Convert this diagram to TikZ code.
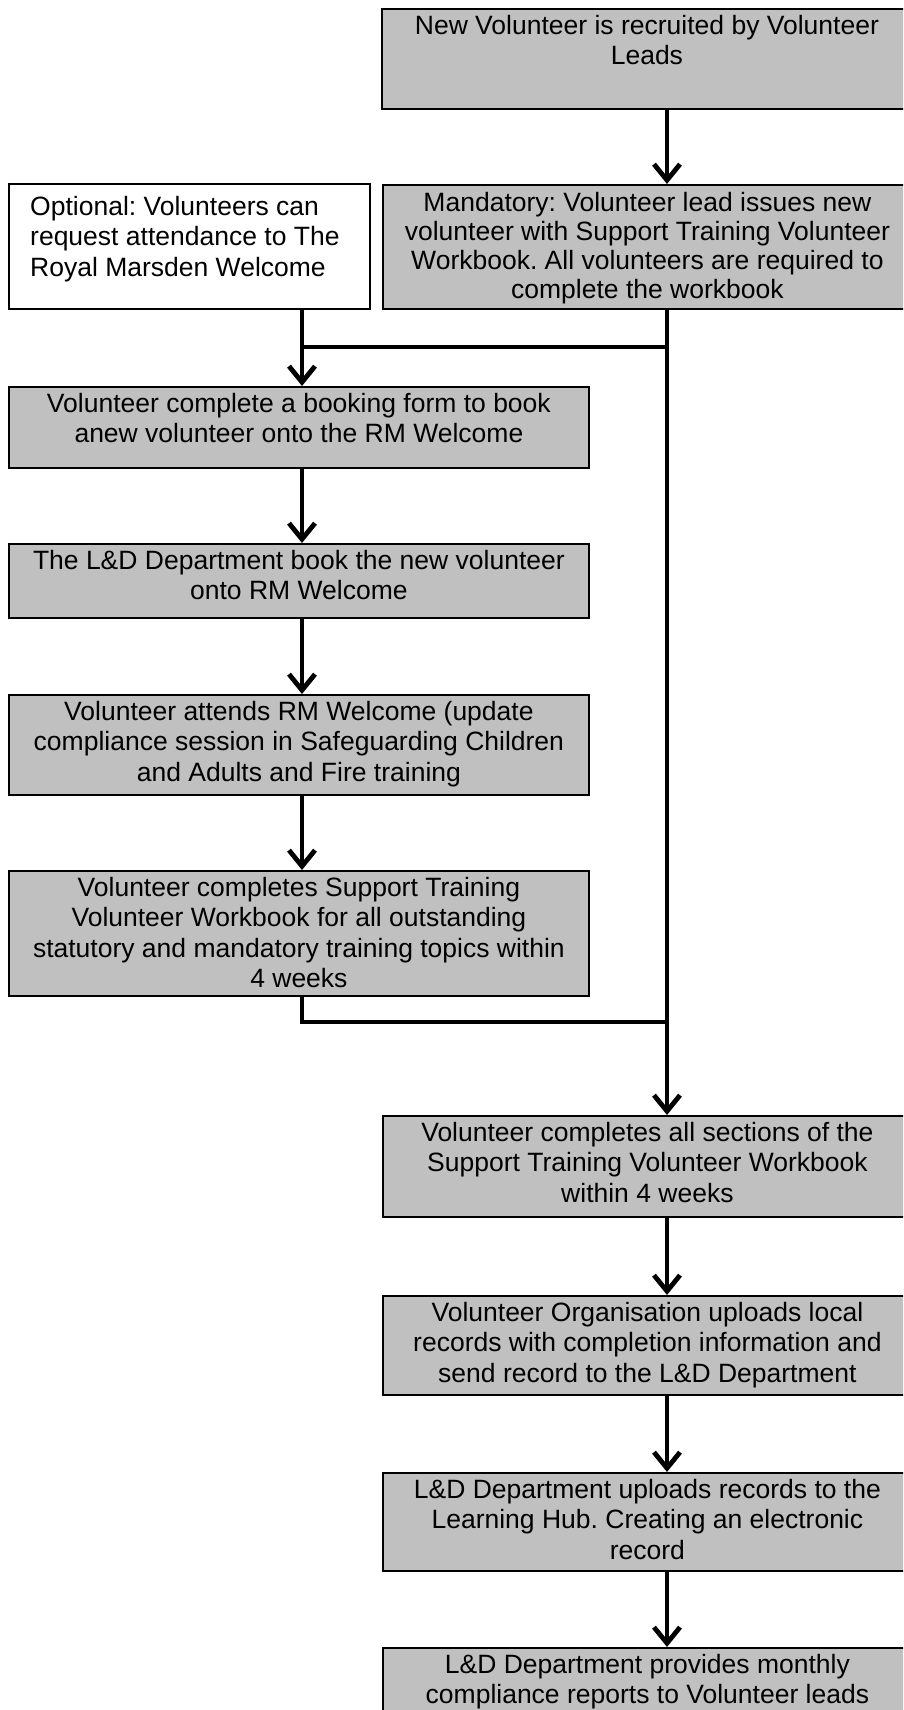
\documentclass[tikz,border=0pt]{standalone}
\usepackage{fontspec}
\setmainfont{Liberation Sans}
\frenchspacing
\usetikzlibrary{arrows.meta,calc}
\definecolor{boxgray}{HTML}{C0C0C0}
\begin{document}
\begin{tikzpicture}[x=1pt,y=-1pt,
  box/.style={draw=black,line width=1.8pt,fill=boxgray,rectangle,inner sep=0pt,anchor=north west},
  wbox/.style={box,fill=white},
  txt/.style={font=\fontsize{26.5}{30.5}\selectfont,align=center,inner sep=0pt,anchor=north},
  ltxt/.style={txt,align=left,anchor=north west},
  conn/.style={line width=4.8pt},
  arr/.style={conn,-{Straight Barb[length=16pt,width=26pt,sharp]}}]
\useasboundingbox (0,0) rectangle (903,1710);
\clip (0,0) rectangle (903,1710);
\fill[white] (0,0) rectangle (903,1710);
\coordinate (R) at (667,0);
\coordinate (L) at (302,0);
\coordinate (J1) at (0,347);
\coordinate (J2) at (0,1022);
% boxes
\node[box,minimum width=530pt,minimum height=100pt] (b1) at (381,8) {};
\node[wbox,minimum width=361pt,minimum height=125pt] (b2) at (8,183) {};
\node[box,minimum width=529pt,minimum height=124pt] (b3) at (382,184) {};
\node[box,minimum width=580pt,minimum height=81pt] (b4) at (8,386) {};
\node[box,minimum width=580pt,minimum height=74pt] (b5) at (8,543) {};
\node[box,minimum width=580pt,minimum height=100pt] (b6) at (8,694) {};
\node[box,minimum width=580pt,minimum height=125pt] (b7) at (8,870) {};
\node[box,minimum width=529pt,minimum height=101pt] (b8) at (382,1115) {};
\node[box,minimum width=529pt,minimum height=99pt] (b9) at (382,1295) {};
\node[box,minimum width=529pt,minimum height=98pt] (b10) at (382,1472) {};
\node[box,minimum width=529pt,minimum height=90pt] (b11) at (382,1647) {};
% texts
\node[txt] (t1) at ($(b1.north)+(0,7)$) {New Volunteer is recruited by Volunteer\\Leads};
\node[ltxt] (t2) at (30,196) {Optional: Volunteers can\\request attendance to The\\Royal Marsden Welcome};
\node[txt,font=\fontsize{26.5}{29}\selectfont] (t3) at ($(b3.north)+(0,8)$) {Mandatory: Volunteer lead issues new\\volunteer with Support Training Volunteer\\Workbook. All volunteers are required to\\complete the workbook};
\node[txt] (t4) at ($(b4.north)+(0,7)$) {Volunteer complete a booking form to book\\anew volunteer onto the RM Welcome};
\node[txt] (t5) at ($(b5.north)+(0,7)$) {The L\&D Department book the new volunteer\\onto RM Welcome};
\node[txt] (t6) at ($(b6.north)+(0,7)$) {Volunteer attends RM Welcome (update\\compliance session in Safeguarding Children\\and Adults and Fire training};
\node[txt] (t7) at ($(b7.north)+(0,7)$) {Volunteer completes Support Training\\Volunteer Workbook for all outstanding\\statutory and mandatory training topics within\\4 weeks};
\node[txt] (t8) at ($(b8.north)+(0,7)$) {Volunteer completes all sections of the\\Support Training Volunteer Workbook\\within 4 weeks};
\node[txt] (t9) at ($(b9.north)+(0,7)$) {Volunteer Organisation uploads local\\records with completion information and\\send record to the L\&D Department};
\node[txt] (t10) at ($(b10.north)+(0,7)$) {L\&D Department uploads records to the\\Learning Hub. Creating an electronic\\record};
\node[txt] (t11) at ($(b11.north)+(0,7)$) {L\&D Department provides monthly\\compliance reports to Volunteer leads};
% connectors
\draw[arr] (b1.south -| R) -- (b3.north -| R);
\draw[arr] (b2.south -| L) -- (b4.north -| L);
\draw[conn] (L |- J1) -- (R |- J1);
\draw[arr] (b3.south -| R) -- (b8.north -| R);
\draw[arr] (b4.south -| L) -- (b5.north -| L);
\draw[arr] (b5.south -| L) -- (b6.north -| L);
\draw[arr] (b6.south -| L) -- (b7.north -| L);
\draw[conn] (b7.south -| L) |- (R |- J2);
\draw[arr] (b8.south -| R) -- (b9.north -| R);
\draw[arr] (b9.south -| R) -- (b10.north -| R);
\draw[arr] (b10.south -| R) -- (b11.north -| R);
\end{tikzpicture}
\end{document}
